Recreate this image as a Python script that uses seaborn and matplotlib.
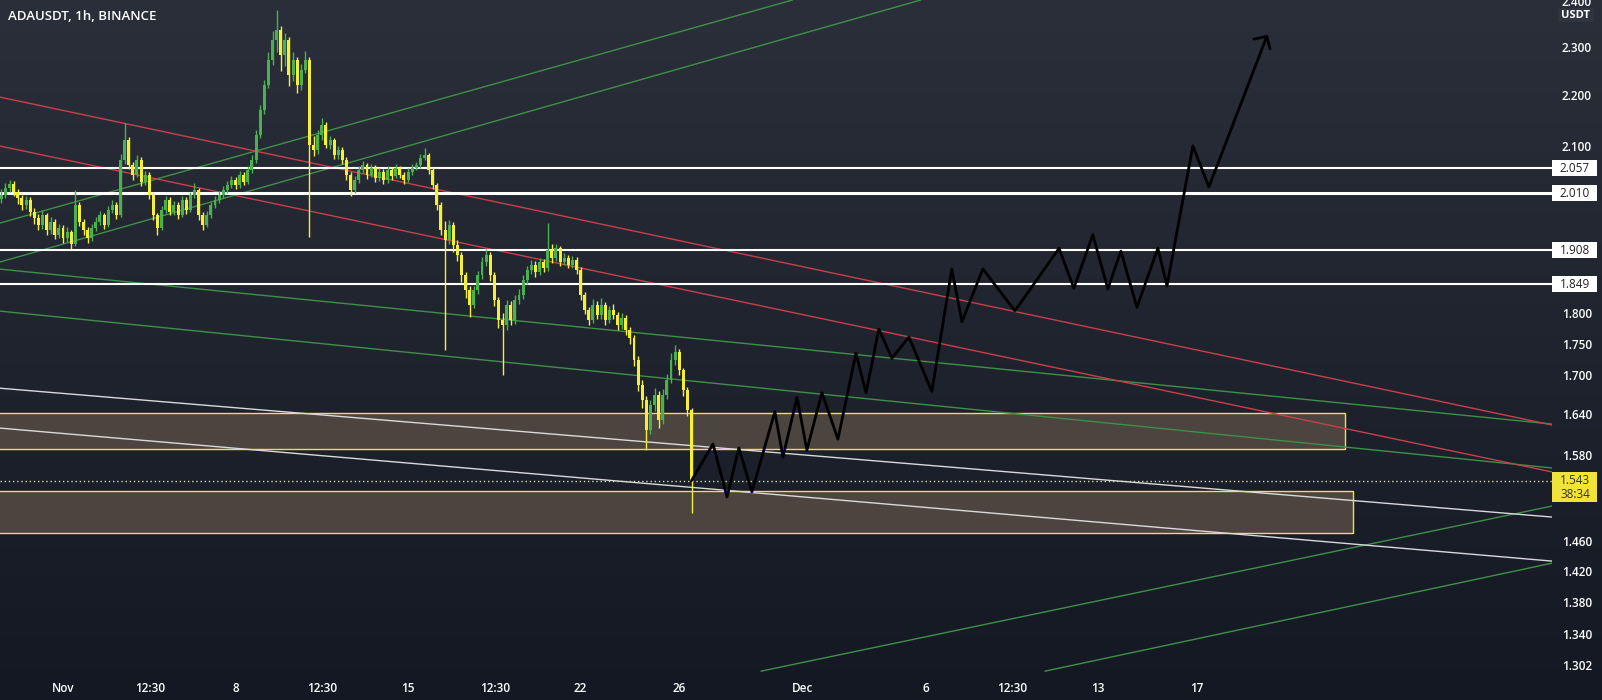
import numpy as np
import pandas as pd
import matplotlib
matplotlib.use("Agg")
import matplotlib.pyplot as plt
import seaborn as sns
from matplotlib.patches import Rectangle
from matplotlib.colors import LinearSegmentedColormap
from matplotlib.ticker import NullLocator

# ---------------- data ----------------
title = "ADAUSDT, 1h, BINANCE"
candle_start_day = -2.5          # days since Nov 1 00:00 (4h candles)
candle_step = 1 / 6
open0 = 2.000
close = [2.007, 2.020, 2.028, 2.013, 2.002, 1.989, 1.998, 1.976, 1.965, 1.952,
         1.970, 1.943, 1.958, 1.935, 1.947, 1.929, 1.940, 1.919, 1.989, 1.958,
         1.943, 1.929, 1.947, 1.958, 1.970, 1.952, 1.980, 1.989, 1.970, 2.073,
         2.111, 2.063, 2.044, 2.073, 2.031, 2.044, 2.007, 1.970, 1.947, 1.980,
         1.998, 1.976, 1.989, 1.970, 1.998, 1.980, 2.007, 2.016, 1.970, 1.952,
         1.970, 1.989, 1.998, 2.007, 2.016, 2.026, 2.035, 2.026, 2.044, 2.031,
         2.054, 2.073, 2.121, 2.170, 2.221, 2.273, 2.315, 2.336, 2.283, 2.315,
         2.241, 2.273, 2.221, 2.252, 2.273, 2.102, 2.092, 2.121, 2.141, 2.102,
         2.111, 2.082, 2.092, 2.073, 2.044, 2.016, 2.035, 2.054, 2.063, 2.044,
         2.058, 2.039, 2.050, 2.035, 2.054, 2.042, 2.058, 2.044, 2.035, 2.050,
         2.058, 2.063, 2.077, 2.082, 2.054, 2.026, 1.989, 1.943, 1.926, 1.952,
         1.917, 1.899, 1.864, 1.839, 1.814, 1.839, 1.864, 1.887, 1.899, 1.864,
         1.822, 1.789, 1.780, 1.814, 1.789, 1.822, 1.830, 1.856, 1.873, 1.882,
         1.870, 1.887, 1.876, 1.908, 1.894, 1.911, 1.887, 1.894, 1.882, 1.890,
         1.873, 1.830, 1.805, 1.789, 1.814, 1.797, 1.814, 1.789, 1.805, 1.797,
         1.780, 1.792, 1.772, 1.759, 1.724, 1.685, 1.662, 1.617, 1.654, 1.670,
         1.632, 1.670, 1.693, 1.724, 1.737, 1.708, 1.677, 1.647, 1.543]
high = [2.018, 2.030, 2.036, 2.033, 2.018, 2.008, 2.006, 2.003, 1.984, 1.972,
        1.980, 1.975, 1.966, 1.963, 1.955, 1.952, 1.948, 1.944, 2.016, 1.995,
        1.963, 1.948, 1.954, 1.966, 1.978, 1.975, 1.987, 1.998, 1.994, 2.085,
        2.145, 2.118, 2.070, 2.082, 2.078, 2.052, 2.050, 2.012, 1.975, 1.987,
        2.006, 2.004, 1.996, 1.994, 2.005, 2.003, 2.013, 2.030, 2.020, 1.976,
        1.977, 1.995, 2.005, 2.014, 2.024, 2.033, 2.043, 2.040, 2.052, 2.050,
        2.062, 2.082, 2.130, 2.180, 2.232, 2.290, 2.335, 2.380, 2.345, 2.330,
        2.322, 2.290, 2.280, 2.265, 2.292, 2.280, 2.120, 2.130, 2.155, 2.146,
        2.120, 2.116, 2.100, 2.097, 2.078, 2.050, 2.042, 2.062, 2.071, 2.068,
        2.066, 2.063, 2.058, 2.055, 2.061, 2.060, 2.065, 2.062, 2.050, 2.057,
        2.065, 2.070, 2.085, 2.096, 2.087, 2.060, 2.030, 1.994, 1.960, 1.962,
        1.958, 1.925, 1.905, 1.870, 1.845, 1.846, 1.872, 1.895, 1.910, 1.904,
        1.870, 1.828, 1.800, 1.822, 1.820, 1.830, 1.840, 1.864, 1.880, 1.890,
        1.888, 1.894, 1.892, 1.956, 1.918, 1.918, 1.915, 1.902, 1.899, 1.897,
        1.895, 1.878, 1.836, 1.810, 1.824, 1.820, 1.826, 1.818, 1.812, 1.815,
        1.802, 1.800, 1.797, 1.778, 1.764, 1.730, 1.692, 1.668, 1.662, 1.680,
        1.676, 1.678, 1.702, 1.735, 1.748, 1.742, 1.712, 1.682, 1.650]
low = [1.992, 2.001, 2.012, 2.005, 1.990, 1.980, 1.982, 1.968, 1.955, 1.944,
       1.946, 1.935, 1.936, 1.928, 1.929, 1.921, 1.923, 1.910, 1.915, 1.950,
       1.935, 1.920, 1.924, 1.942, 1.952, 1.946, 1.948, 1.974, 1.963, 1.966,
       2.065, 2.055, 2.035, 2.040, 2.024, 2.025, 2.000, 1.962, 1.935, 1.943,
       1.974, 1.970, 1.971, 1.963, 1.966, 1.973, 1.976, 2.001, 1.962, 1.943,
       1.948, 1.965, 1.984, 1.993, 2.002, 2.011, 2.020, 2.019, 2.021, 2.025,
       2.027, 2.049, 2.068, 2.115, 2.163, 2.214, 2.262, 2.290, 2.250, 2.260,
       2.220, 2.230, 2.205, 2.210, 2.245, 1.931, 2.080, 2.085, 2.112, 2.095,
       2.094, 2.075, 2.074, 2.066, 2.036, 2.005, 2.010, 2.030, 2.048, 2.037,
       2.040, 2.032, 2.034, 2.028, 2.030, 2.036, 2.038, 2.038, 2.028, 2.031,
       2.045, 2.053, 2.058, 2.072, 2.047, 2.018, 1.980, 1.935, 1.740, 1.918,
       1.905, 1.888, 1.852, 1.826, 1.794, 1.808, 1.833, 1.858, 1.880, 1.855,
       1.812, 1.775, 1.700, 1.772, 1.780, 1.783, 1.815, 1.824, 1.850, 1.866,
       1.862, 1.864, 1.870, 1.872, 1.886, 1.888, 1.880, 1.881, 1.876, 1.876,
       1.866, 1.822, 1.798, 1.780, 1.784, 1.790, 1.791, 1.781, 1.784, 1.790,
       1.772, 1.774, 1.764, 1.750, 1.715, 1.675, 1.650, 1.587, 1.610, 1.645,
       1.620, 1.625, 1.664, 1.688, 1.716, 1.700, 1.668, 1.638, 1.497]

# horizontal levels
level_prices = [2.057, 2.010, 1.908, 1.849]
level_widths = [1.5, 2.2, 1.5, 1.5]
current_price = 1.543
countdown = "38:34"

# zones: (bottom price, top price, right-edge day)
zone_bottom = [1.588, 1.470]
zone_top = [1.642, 1.528]
zone_right = [52.0, 52.33]

# trend lines: (day0, price0, day1, price1)
red_lines = [(-2.556, 2.1965, 60.41, 1.624), (-2.556, 2.0997, 60.41, 1.5553)]
green_lines = [(-2.556, 1.956, 29.6, 2.402), (-2.556, 1.887, 34.8, 2.402),
               (-2.556, 1.8747, 60.41, 1.6254), (-2.556, 1.8036, 60.41, 1.561),
               (28.32, 1.2946, 60.41, 1.5072), (39.84, 1.2946, 60.41, 1.430)]
white_lines = [(-2.556, 1.680, 60.41, 1.492), (-2.556, 1.6194, 60.41, 1.4327)]

# projected path
proj_day = [25.5, 26.37, 26.94, 27.42, 27.95, 28.88, 29.21, 29.78, 30.18, 30.79,
            31.44, 32.17, 32.58, 33.10, 33.63, 34.32, 35.25, 36.06, 36.47, 37.32,
            38.62, 40.41, 41.01, 41.78, 42.39, 42.92, 43.57, 44.42, 44.79, 45.84,
            46.49, 48.84]
proj_price = [1.543, 1.596, 1.520, 1.590, 1.527, 1.644, 1.577, 1.666, 1.587, 1.673,
              1.603, 1.735, 1.673, 1.774, 1.727, 1.761, 1.675, 1.875, 1.786, 1.875,
              1.804, 1.911, 1.842, 1.935, 1.841, 1.906, 1.810, 1.911, 1.846, 2.100,
              2.022, 2.323]
head_day = [48.32, 48.84, 48.97]
head_price = [2.317, 2.323, 2.296]

xtick_days = [0, 3.52, 7, 10.52, 14, 17.52, 21, 25, 30, 35, 38.52, 42, 46]
xtick_labels = ["Nov", "12:30", "8", "12:30", "15", "12:30", "22", "26", "Dec",
                "6", "12:30", "13", "17"]
ytick_values = [2.4, 2.3, 2.2, 2.1, 1.8, 1.75, 1.7, 1.64, 1.58,
                1.46, 1.42, 1.38, 1.34, 1.302]
ytick_labels = ["2.400", "2.300", "2.200", "2.100", "1.800", "1.750", "1.700",
                "1.640", "1.580", "1.460", "1.420", "1.380", "1.340", "1.302"]

# ---------------- style ----------------
sns.set_theme(style="dark")
plt.rcParams['font.family'] = ['Open Sans', 'DejaVu Sans']

UP = "#4caf50"
DOWN = "#f5ef3a"
RED = "#c8404c"
GREEN = "#3f8f48"
WHITE_L = "#d9d9d9"
YELLOW = "#f2e33a"

W, H = 1602, 700
fig = plt.figure(figsize=(W / 100, H / 100), dpi=100)

bg = fig.add_axes([0, 0, 1, 1], zorder=-10)
grad = np.linspace(0, 1, 256).reshape(-1, 1)
cmap = LinearSegmentedColormap.from_list("bg", ["#2b2f3a", "#141823"])
bg.imshow(grad, aspect="auto", cmap=cmap, extent=[0, 1, 0, 1], origin="upper")
bg.axis("off")

ax = fig.add_axes([0, 28 / H, 1552 / W, 672 / H])
ax.set_facecolor("none")
ax.set_yscale("log")
ax.set_xlim(-2.556, 60.41)
ax.set_ylim(1.2936, 2.402)
for s in ax.spines.values():
    s.set_visible(False)
ax.grid(False)

# zones
for b, t, r in zip(zone_bottom, zone_top, zone_right):
    ax.add_patch(Rectangle((-6, b), r + 6, t - b, facecolor="#4b443f",
                           edgecolor=YELLOW, lw=1.0, zorder=1))

# trend lines
def draw_lines(lines, color, lw):
    for d0, p0, d1, p1 in lines:
        seg = pd.DataFrame({"day": [d0, d1], "price": [p0, p1]})
        sns.lineplot(data=seg, x="day", y="price", ax=ax, color=color, lw=lw,
                     sort=False, estimator=None, zorder=2)

draw_lines(green_lines, GREEN, 1.0)
draw_lines(red_lines, RED, 1.0)
draw_lines(white_lines, WHITE_L, 1.0)

# levels
for p, lw in zip(level_prices, level_widths):
    ax.axhline(p, color="white", lw=lw, zorder=3)
ax.axhline(current_price, color="#d8d6b8", lw=1.0, ls=(0, (1, 2)), zorder=3)

# candles
n = len(close)
days = candle_start_day + candle_step * np.arange(n)
opens = [open0] + close[:-1]
df = pd.DataFrame({"day": days, "open": opens, "close": close, "high": high, "low": low})
df["up"] = df["close"] >= df["open"]
cols = np.where(df["up"], UP, DOWN)
ax.vlines(df["day"], df["low"], df["high"], colors=cols, lw=1.0, zorder=4)
body_lo = np.minimum(df["open"], df["close"])
body_h = np.maximum(np.abs(df["close"] - df["open"]), 0.003)
ax.bar(df["day"], body_h, bottom=body_lo, width=0.12, color=cols, lw=0, zorder=5)

# projection
proj = pd.DataFrame({"day": proj_day, "price": proj_price})
sns.lineplot(data=proj, x="day", y="price", ax=ax, color="black", lw=2.0,
             sort=False, estimator=None, zorder=6)
head = pd.DataFrame({"day": head_day, "price": head_price})
sns.lineplot(data=head, x="day", y="price", ax=ax, color="black", lw=2.0,
             sort=False, estimator=None, zorder=6)

ax.set_xlabel("")
ax.set_ylabel("")

# ticks
ax.set_xticks(xtick_days)
ax.set_xticklabels(xtick_labels)
ax.tick_params(axis="x", length=0, pad=7, labelsize=8.5, labelcolor="white")
ax.yaxis.tick_right()
ax.set_yticks(ytick_values)
ax.set_yticklabels(ytick_labels)
ax.yaxis.set_minor_locator(NullLocator())
ax.tick_params(axis="y", length=0, pad=7, labelsize=8.5, labelcolor="white")
for lab in ax.get_yticklabels():
    lab.set_ha("left")
for lab in ax.get_xticklabels() + ax.get_yticklabels():
    lab.set_fontweight("semibold")

# labels on the price axis
def fy(price):
    return fig.transFigure.inverted().transform(ax.transData.transform((0, price)))[1]

bx0, bw = 1552 / W, 45 / W
for p in level_prices:
    y = fy(p)
    fig.patches.append(Rectangle((bx0, y - 8 / H), bw, 16 / H, transform=fig.transFigure,
                                 facecolor="white", edgecolor="none", zorder=5))
    fig.text((1552 + 23) / W, y, f"{p:.3f}", color="#222222", fontsize=8.5,
             ha="center", va="center", zorder=6)

y = fy(current_price)
fig.patches.append(Rectangle((bx0, y - 21 / H), bw, 30 / H, transform=fig.transFigure,
                             facecolor=YELLOW, edgecolor="none", zorder=5))
fig.text((1552 + 23) / W, y, f"{current_price:.3f}", color="#333333", fontsize=8.5,
         ha="center", va="center", zorder=6)
fig.text((1552 + 23) / W, y - 14 / H, countdown, color="#333333", fontsize=8.5,
         ha="center", va="center", zorder=6)

fig.patches.append(Rectangle((1558 / W, 1 - 22 / H), 36 / W, 14 / H, transform=fig.transFigure,
                             facecolor="#30343f", edgecolor="none", zorder=5))
fig.text(1576 / W, 1 - 15 / H, "USDT", color="white", fontsize=8, fontweight="bold",
         ha="center", va="center", zorder=6)

fig.text(8 / W, 1 - 16 / H, title, color="white", fontsize=9.5, fontweight="semibold",
         ha="left", va="center")

fig.savefig("out.png", dpi=100)
